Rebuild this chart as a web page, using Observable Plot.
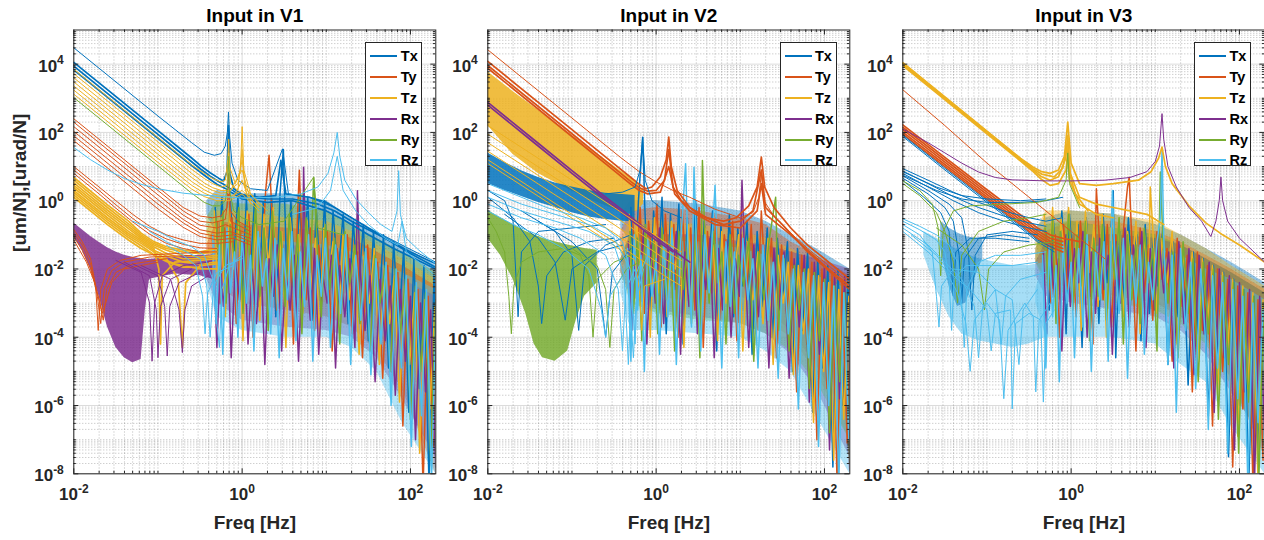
<!DOCTYPE html>
<html><head><meta charset="utf-8">
<script src="https://cdn.jsdelivr.net/npm/d3@7"></script>
<script src="https://cdn.jsdelivr.net/npm/@observablehq/plot@0.6"></script>
<style>
html,body{margin:0;padding:0;background:#fff;}
body{width:1264px;height:540px;overflow:hidden;position:relative;font-family:"Liberation Sans",Arial,Helvetica,sans-serif;}
.panel{position:absolute;top:0;width:450px;height:540px;}
.legend{position:absolute;top:41.7px;width:57px;height:124px;border:1px solid #262626;background:#fff;box-sizing:border-box;}
.legend .row{position:absolute;left:0;height:20px;width:100%;}
.legend .sw{position:absolute;left:4px;width:27px;top:9px;height:2px;display:block;}
.legend .lt{position:absolute;left:34.5px;top:1px;font-weight:bold;font-size:14.5px;line-height:18px;color:#000;}
</style></head>
<body>
<script>
// ---- series, labels, ticks ----
const seriesNames = ["Tx","Ty","Tz","Rx","Ry","Rz"];
const seriesColors = ["#0072BD","#D95319","#EDB120","#7E2F8E","#77AC30","#4DBEEE"];
const panelTitles = ["Input in V1","Input in V2","Input in V3"];
const xLabel = "Freq [Hz]";
const yLabel = "[um/N],[urad/N]";
const xDomain = [0.01, 200];
const yDomain = [1e-8, 1e5];
const xTicks = [1e-2, 1e0, 1e2];
const yTicks = [1e-8, 1e-6, 1e-4, 1e-2, 1e0, 1e2, 1e4];

// All curve values below as [log10(f), log10(|H|)] pairs.
// ---------- Input in V1 ----------
const V1_bundles = [
 ["Tx",[-2,4.05,-1,2.05,-0.6,1.25,-0.49,1.02,-0.38,0.82,-0.28,0.66,-0.22,0.58,-0.18,0.85,-0.162,2.2,-0.145,0.8,-0.1,0.35,0,0.18,0.2,0.1,0.4,0.15,0.46,1.18,0.52,0.2,0.8,0.1,1.0,-0.05,1.2,-0.35,1.4,-0.65,1.6,-0.95,1.8,-1.25,2.0,-1.55,2.3,-1.95]],
 ["Tx",[-2,3.94,-1,1.94,-0.6,1.14,-0.49,0.92,-0.38,0.72,-0.28,0.56,-0.2,0.45,-0.1,0.28,0,0.12,0.3,0.05,0.6,0.05,0.9,-0.1,1.1,-0.3,1.3,-0.6,1.5,-0.85,1.7,-1.1,2.0,-1.5,2.3,-1.85]],
 ["Tx",[-2,3.83,-1,1.83,-0.6,1.03,-0.49,0.82,-0.38,0.62,-0.3,0.48,-0.2,0.36,-0.1,0.2,0,0.05,0.3,-0.05,0.6,0.0,0.8,-0.15,1.0,-0.3,1.2,-0.55,1.5,-1.0,1.8,-1.4,2.3,-2.0]],
 ["Tz",[-2,0.68,-1.6,-0.12,-1.35,-0.6,-1.2,-0.95,-1.05,-1.2,-0.9,-1.35,-0.7,-1.45,-0.5,-1.5,-0.3,-1.4]],
 ["Tz",[-2,0.6,-1.6,-0.2,-1.35,-0.68,-1.2,-1.0,-1.05,-1.25,-0.9,-1.4,-0.7,-1.5,-0.5,-1.55,-0.3,-1.5]],
 ["Tz",[-2,0.52,-1.6,-0.28,-1.35,-0.75,-1.2,-1.05,-1.05,-1.3,-0.9,-1.45,-0.7,-1.6,-0.5,-1.65,-0.3,-1.6]],
 ["Tz",[-2,0.45,-1.6,-0.35,-1.35,-0.82,-1.2,-1.1,-1.05,-1.35,-0.9,-1.55,-0.7,-1.7,-0.5,-1.7,-0.3,-1.65]],
 ["Tz",[-2,0.38,-1.6,-0.42,-1.35,-0.9,-1.2,-1.15,-1.05,-1.4,-0.99,-2.0,-0.97,-4.2,-0.95,-2.2,-0.8,-1.8,-0.5,-1.75,-0.3,-1.7]],
 ["Tz",[-2,0.3,-1.6,-0.5,-1.35,-0.96,-1.2,-1.2,-1.05,-1.45,-0.9,-1.62,-0.7,-1.8,-0.5,-1.85,-0.3,-1.8]],
 ["Tz",[-2,0.24,-1.6,-0.56,-1.35,-1.02,-1.2,-1.25,-1.05,-1.5,-0.9,-1.7,-0.76,-2.3,-0.71,-4.3,-0.67,-2.4,-0.5,-1.9,-0.3,-1.85]],
 ["Tz",[-2,0.17,-1.6,-0.63,-1.35,-1.08,-1.2,-1.32,-1.05,-1.58,-0.9,-1.78,-0.7,-1.95,-0.5,-1.95]],
 ["Tz",[-2,0.1,-1.6,-0.7,-1.35,-1.15,-1.2,-1.4,-1.0,-1.65,-0.8,-1.85,-0.5,-2.0,-0.3,-2.0]]
];
const V1_lines = [
 ["Tx",[-2,4.48,-1,2.48,-0.6,1.7,-0.45,1.42,-0.33,1.33,-0.25,1.38,-0.2,1.6,-0.175,2.0,-0.162,2.6,-0.15,1.9,-0.12,1.1,-0.05,0.6,0.1,0.35,0.3,0.3,0.48,1.52,0.55,0.2,0.8,0.1,1.1,-0.2,1.5,-0.8,1.9,-1.3,2.3,-1.8]],
 ["Ty",[-2,2.4,-1,0.4,-0.7,-0.2,-0.5,-0.45,-0.35,-0.5,-0.25,-0.45,-0.18,-0.2,-0.16,0.8,-0.14,-0.3,-0.05,-0.6,0.1,-0.8]],
 ["Ty",[-2,2.3,-1,0.3,-0.7,-0.3,-0.5,-0.6,-0.35,-0.65,-0.2,-0.55,-0.16,0.2,-0.14,-0.6,0.1,-0.9]],
 ["Ty",[-2,2.17,-1,0.17,-0.7,-0.42,-0.5,-0.72,-0.3,-0.8,-0.2,-0.7,-0.1,-0.8,0.1,-1.0]],
 ["Ty",[-2,2.03,-1,0.03,-0.7,-0.55,-0.5,-0.85,-0.3,-0.95,-0.15,-0.9,0.1,-1.1]],
 ["Ty",[-2,1.9,-1,-0.1,-0.7,-0.65,-0.5,-0.95,-0.3,-1.05,-0.1,-1.0,0.1,-1.2]],
 ["Ty",[-2,1.76,-1,-0.24,-0.7,-0.78,-0.5,-1.05,-0.3,-1.15,-0.1,-1.1,0.1,-1.3]],
 ["Ty",[-2,1.0,-1.7,0.4,-1.5,0.0,-1.3,-0.4,-1.1,-0.75,-0.9,-1.0,-0.7,-1.15,-0.5,-1.25,-0.3,-1.25,-0.1,-1.2]],
 ["Ty",[-2,0.9,-1.7,0.3,-1.5,-0.12,-1.3,-0.52,-1.1,-0.88,-0.9,-1.12,-0.7,-1.28,-0.5,-1.38,-0.3,-1.4]],
 ["Ty",[-2,0.8,-1.7,0.2,-1.5,-0.22,-1.3,-0.62,-1.1,-0.98,-0.9,-1.25,-0.7,-1.4,-0.5,-1.5,-0.3,-1.5]],
 ["Ty",[-2,-0.85,-1.9,-1.2,-1.8,-1.7,-1.74,-2.5,-1.71,-3.8,-1.68,-2.6,-1.6,-2.0,-1.45,-1.75,-1.2,-1.6,-0.8,-1.55,-0.4,-1.5]],
 ["Ty",[-2,-0.95,-1.9,-1.3,-1.8,-1.85,-1.72,-2.8,-1.68,-3.6,-1.64,-2.6,-1.55,-2.05,-1.4,-1.8,-1.1,-1.65,-0.6,-1.6]],
 ["Ty",[-2,-1.05,-1.9,-1.45,-1.8,-2.0,-1.7,-2.9,-1.65,-3.5,-1.61,-2.6,-1.5,-2.1,-1.3,-1.85,-0.9,-1.7]],
 ["Ty",[-2,-1.15,-1.85,-1.8,-1.75,-2.4,-1.66,-3.3,-1.62,-3.0,-1.55,-2.4,-1.4,-2.0,-1.0,-1.8]],
 ["Tz",[-2,3.85,-1,1.85,-0.6,1.05,-0.45,0.8,-0.35,0.65,-0.25,0.55,-0.2,0.6,-0.17,1.2,-0.16,1.8,-0.15,1.0,-0.08,0.5,-0.02,0.9,0.0,2.17,0.02,0.9,0.1,0.2,0.3,-0.3]],
 ["Tz",[-2,3.72,-1,1.72,-0.6,0.92,-0.45,0.65,-0.35,0.5,-0.25,0.4,-0.18,0.45,-0.16,1.4,-0.14,0.5,-0.05,0.3,0,1.5,0.03,0.4,0.2,-0.1]],
 ["Tz",[-2,3.6,-1,1.6,-0.6,0.8,-0.45,0.52,-0.35,0.38,-0.25,0.3,-0.15,0.3,-0.05,0.5,0,1.2,0.05,0.2,0.2,-0.2]],
 ["Tz",[-2,3.48,-1,1.48,-0.6,0.68,-0.45,0.42,-0.35,0.3,-0.25,0.22,-0.15,0.25,0,0.9,0.1,0.0]],
 ["Tz",[-2,3.36,-1,1.36,-0.6,0.56,-0.45,0.32,-0.35,0.2,-0.25,0.15,-0.1,0.1,0,0.6,0.1,-0.1]],
 ["Tz",[-2,3.24,-1,1.24,-0.6,0.45,-0.45,0.22,-0.35,0.12,-0.2,0.05,0,0.3,0.2,-0.2]],
 ["Tz",[-2,3.12,-1,1.12,-0.6,0.34,-0.45,0.12,-0.3,0.0,-0.15,0.0,0,0.2,0.2,-0.3]],
 ["Rx",[-1.5,-1.75,-1.2,-2.1,-1.1,-3.0,-1.07,-4.7,-1.04,-3.0,-0.95,-2.2,-0.7,-1.9,-0.4,-1.8]],
 ["Rx",[-1.4,-1.8,-1.1,-2.2,-1.02,-3.2,-1.0,-4.6,-0.97,-3.1,-0.85,-2.3,-0.6,-2.0]],
 ["Rx",[-1.3,-1.85,-1.0,-2.2,-0.92,-3.1,-0.89,-4.55,-0.86,-3.1,-0.75,-2.4,-0.5,-2.1]],
 ["Rx",[-1.2,-1.9,-0.85,-2.3,-0.75,-3.2,-0.71,-4.45,-0.68,-3.2,-0.6,-2.5,-0.4,-2.2]],
 ["Ry",[-2,3.02,-1,1.02,-0.6,0.22,-0.45,-0.05,-0.35,-0.15,-0.27,-0.15,-0.2,0.0,-0.17,0.5,-0.16,1.3,-0.15,0.3,-0.1,-0.3,0,-0.5,0.2,-0.7,0.5,-0.6,0.85,0.69,0.9,-0.8,1.2,-1.0]],
 ["Rz",[-2,1.56,-1.8,1.2,-1.6,0.9,-1.4,0.65,-1.2,0.48,-1.0,0.35,-0.7,0.22,-0.4,0.15,0,0.08,0.4,0.1,0.7,0.2,0.9,0.4,1.02,0.8,1.09,1.4,1.13,2.0,1.16,1.3,1.22,0.6,1.35,0.05,1.5,-0.35,1.65,-0.7,1.78,-0.9,1.84,-0.3,1.86,0.88,1.88,-0.4,1.95,-1.1,2.1,-1.45,2.3,-1.85]],
 ["Rz",[0.6,-0.4,0.9,-0.2,1.05,0.3,1.13,1.3,1.2,0.3,1.35,-0.3,1.5,-0.7,1.7,-1.1,1.85,-1.3,1.9,-0.6,1.95,-1.5,2.15,-1.9,2.3,-2.2]],
 ["Rz",[-1.3,-0.6,-1.0,-0.9,-0.8,-1.15,-0.6,-1.35,-0.45,-1.6,-0.35,-2.3,-0.3,-3.6,-0.27,-4.3,-0.24,-2.6,-0.15,-1.9,0,-1.6]],
 ["Rz",[-1.1,-0.9,-0.9,-1.2,-0.7,-1.45,-0.5,-1.7,-0.42,-2.5,-0.38,-4.0,-0.34,-2.5,-0.2,-1.9,0,-1.7]],
 ["Rz",[-0.9,-1.3,-0.7,-1.6,-0.55,-1.9,-0.47,-2.8,-0.44,-3.9,-0.41,-2.7,-0.3,-2.1,-0.1,-1.9]]
];
// [log10 f, log10 low, log10 high] envelopes of dense bundles
const V1_bands = [
 ["Rx",[[-2,-1.05,-0.65],[-1.9,-1.45,-0.85],[-1.8,-2.0,-1.05],[-1.7,-2.8,-1.22],[-1.6,-3.7,-1.38],[-1.5,-4.3,-1.5],[-1.4,-4.6,-1.6],[-1.3,-4.75,-1.66],[-1.2,-4.65,-1.7],[-1.15,-3.2,-1.72],[-1.1,-2.3,-1.72],[-0.8,-2.15,-1.65],[-0.5,-2.2,-1.6],[-0.35,-2.3,-1.6]]]
];
// envelopes of the dense resonance region, per output
const V1_core = [
 ["Tx",[[-0.42,-0.4,0.0],[-0.3,-1.0,0.3],[0,-1.5,0.2],[0.5,-1.5,0.2],[1.0,-1.8,0.0],[1.3,-2.2,-0.5],[1.6,-2.8,-0.9],[1.9,-3.5,-1.3],[2.3,-4.5,-1.9]]],
 ["Ry",[[-0.42,-0.9,-0.5],[-0.3,-1.5,0.0],[0,-2.0,-0.1],[0.5,-2.2,-0.1],[1.0,-2.5,-0.3],[1.3,-2.8,-0.7],[1.6,-3.4,-1.1],[1.9,-4.2,-1.5],[2.3,-5.5,-2.1]]],
 ["Tz",[[-0.42,-1.3,-0.9],[-0.3,-2.0,-0.3],[0,-2.5,-0.3],[0.5,-2.8,-0.5],[1.0,-3.0,-0.6],[1.3,-3.3,-0.9],[1.6,-3.8,-1.3],[1.9,-4.8,-1.7],[2.3,-6.0,-2.3]]],
 ["Ty",[[-0.42,-1.7,-1.3],[-0.3,-2.5,-0.6],[0,-3.0,-0.7],[0.5,-3.2,-0.8],[1.0,-3.4,-0.9],[1.3,-3.7,-1.1],[1.6,-4.4,-1.5],[1.9,-5.5,-1.9],[2.3,-8.0,-2.5]]],
 ["Rx",[[-0.42,-2.3,-1.9],[-0.3,-3.0,-1.3],[0,-3.5,-1.2],[0.5,-3.7,-1.3],[1.0,-3.8,-1.4],[1.3,-4.0,-1.6],[1.6,-4.6,-1.9],[1.9,-5.8,-2.3],[2.3,-7.5,-2.8]]],
 ["Rz",[[-0.42,-2.4,-2.0],[-0.3,-3.4,-1.0],[0,-3.8,-1.0],[0.5,-4.0,-1.2],[1.0,-4.0,-1.3],[1.3,-4.3,-1.5],[1.6,-5.0,-1.8],[1.9,-6.5,-2.1],[2.3,-8.0,-2.6]]]
];
const V1_noise = [
 ["Tx",[-0.32,-0.2,-0.28,-1.9,-0.24,0.1,-0.2,-2.4,-0.14,0.0,-0.1,-1.7,-0.05,0.15,0.0,-2.9,0.05,0.05,0.1,-2.1,0.15,0.2,0.2,-3.1,0.25,-0.05,0.3,-1.8,0.35,0.1,0.4,-3.4,0.45,0.2,0.49,1.5,0.53,-2.3,0.58,0.0,0.63,-2.8,0.68,-0.1,0.73,-1.9,0.78,0.1,0.83,-3.5,0.88,-0.2,0.93,-2.4,0.98,0.0,1.03,-3.0,1.08,-0.3,1.14,-2.2,1.2,-0.4,1.26,-3.6,1.32,-0.6,1.38,-2.7,1.44,-0.7,1.5,-4.1,1.56,-0.9,1.62,-3.3,1.68,-1.0,1.74,-4.9,1.8,-1.2,1.86,-3.8,1.92,-1.4,1.98,-6.2,2.04,-1.7,2.1,-5.5,2.16,-1.9,2.22,-8.3,2.28,-2.2,2.32,-6.8]],
 ["Ty",[-0.3,-0.6,-0.26,-3.0,-0.21,-0.8,-0.17,-2.2,-0.12,-0.5,-0.07,-3.6,-0.02,-0.9,0.03,-2.5,0.08,-0.4,0.13,-4.0,0.18,-1.0,0.23,-2.0,0.28,0.3,0.32,1.33,0.36,-0.6,0.41,-3.2,0.46,-1.1,0.51,-2.6,0.56,-0.7,0.61,-4.2,0.66,-0.3,0.68,0.89,0.71,-1.2,0.76,-2.9,0.81,-0.8,0.86,-3.8,0.91,-1.3,0.96,-2.4,1.01,-0.9,1.07,-4.4,1.13,-1.4,1.19,-2.8,1.25,-1.0,1.31,-3.9,1.37,-1.5,1.43,-4.6,1.49,-1.3,1.55,-3.2,1.61,-1.8,1.67,-5.2,1.73,-1.9,1.79,-4.4,1.85,-2.1,1.91,-6.6,1.97,-2.3,2.03,-5.3,2.09,-2.6,2.15,-8.4,2.21,-2.8,2.27,-7.2,2.32,-3.0]],
 ["Tz",[-0.33,-0.3,-0.29,-2.4,-0.25,-0.5,-0.2,-3.4,-0.15,-0.2,-0.1,-2.0,-0.04,-0.6,0.01,-4.1,0.06,-0.3,0.11,-2.7,0.16,-0.7,0.21,-3.5,0.26,-0.4,0.31,-1.9,0.37,-0.2,0.42,-3.0,0.47,-0.9,0.52,-4.3,0.57,-0.5,0.62,-2.2,0.67,-1.0,0.72,-3.3,0.77,-0.6,0.82,-2.6,0.87,-1.1,0.92,-4.0,0.97,-0.8,1.02,-2.3,1.08,-1.2,1.14,-3.7,1.2,-1.0,1.27,-2.9,1.33,-1.4,1.39,-4.5,1.45,-1.6,1.51,-3.0,1.57,-1.4,1.63,-4.8,1.69,-2.0,1.75,-3.6,1.81,-2.2,1.87,-5.9,1.93,-2.5,1.99,-4.8,2.05,-2.7,2.11,-7.4,2.17,-2.9,2.23,-6.1,2.29,-3.1]],
 ["Rx",[-0.34,-1.6,-0.3,-4.3,-0.26,-1.9,-0.22,-3.1,-0.17,-1.4,-0.13,-4.6,-0.08,-1.8,-0.03,-2.9,0.02,-1.2,0.07,-4.2,0.12,-2.0,0.17,-3.6,0.22,-1.5,0.27,-4.8,0.32,-1.7,0.37,-2.8,0.42,-1.3,0.47,-4.4,0.52,-2.1,0.57,-3.2,0.62,-1.6,0.67,-4.7,0.72,-1.8,0.73,0.98,0.76,-1.9,0.81,-3.5,0.86,-1.4,0.91,-4.5,0.96,-2.2,1.01,-3.0,1.06,-1.6,1.11,-4.9,1.16,-1.9,1.22,-3.4,1.28,-1.7,1.34,-4.3,1.37,0.29,1.4,-2.0,1.46,-3.8,1.52,-2.2,1.58,-5.3,1.64,-2.3,1.7,-4.1,1.76,-2.5,1.82,-5.7,1.88,-2.6,1.94,-4.7,2.0,-2.8,2.06,-7.0,2.12,-3.0,2.18,-5.6,2.24,-3.2,2.3,-7.8]],
 ["Ry",[-0.31,-0.5,-0.27,-2.2,-0.23,-0.3,-0.19,-3.0,-0.14,-0.7,-0.09,-1.8,-0.04,-0.2,0.01,-3.3,0.06,-0.6,0.11,-2.3,0.16,-0.1,0.21,-2.8,0.26,-0.8,0.31,-3.8,0.36,-0.3,0.41,-2.0,0.46,-0.9,0.51,-3.1,0.56,-0.4,0.61,-2.5,0.66,-1.0,0.71,-3.9,0.76,-0.5,0.81,-2.1,0.85,0.69,0.89,-1.2,0.94,-3.4,0.99,-0.7,1.04,-2.6,1.1,-1.1,1.16,-4.2,1.22,-0.9,1.28,-2.4,1.34,-1.3,1.4,-3.6,1.46,-1.5,1.52,-4.4,1.58,-1.6,1.64,-3.0,1.7,-1.9,1.76,-5.0,1.82,-2.0,1.88,-3.9,1.94,-2.3,2.0,-6.4,2.06,-2.5,2.12,-5.0,2.18,-2.7,2.24,-7.6,2.3,-2.9]],
 ["Rz",[-0.35,-1.0,-0.31,-3.6,-0.27,-1.3,-0.23,-4.5,-0.18,-0.8,-0.14,-2.7,-0.09,-1.5,-0.05,-4.0,0.0,-1.0,0.05,-3.0,0.1,-1.6,0.14,-4.4,0.19,-0.9,0.24,-2.5,0.29,-1.7,0.34,-3.9,0.39,-1.1,0.44,-4.6,0.49,-1.4,0.54,-2.9,0.59,-0.9,0.64,-4.1,0.69,-1.5,0.74,-3.1,0.79,-1.0,0.84,-4.7,0.89,-1.6,0.94,-2.8,0.99,-1.1,1.05,-4.3,1.11,-1.3,1.17,-3.3,1.23,-1.0,1.29,-4.8,1.35,-1.6,1.41,-3.5,1.47,-1.4,1.53,-5.1,1.59,-1.7,1.65,-4.2,1.71,-1.8,1.77,-6.0,1.83,-2.0,1.89,-4.9,1.95,-2.2,2.01,-7.2,2.07,-2.4,2.13,-6.3,2.19,-2.6,2.25,-8.2,2.31,-2.8]]
];

// ---------- Input in V2 ----------
const V2_bundles = [
 ["Ty",[-2,4.08,-1,2.08,-0.5,1.08,-0.3,0.68,-0.2,0.48,-0.12,0.35,-0.05,0.4,0.05,0.7,0.12,1.2,0.15,1.86,0.18,1.0,0.25,0.3,0.4,-0.2,0.6,-0.5,0.8,-0.6,0.95,-0.5,1.1,-0.15,1.2,0.4,1.25,1.28,1.29,0.4,1.4,-0.2,1.6,-0.8,1.8,-1.3,2.0,-1.7,2.3,-2.3]],
 ["Ty",[-2,3.96,-1,1.96,-0.5,0.96,-0.3,0.56,-0.2,0.38,-0.1,0.28,0.0,0.3,0.1,0.6,0.15,1.5,0.2,0.4,0.3,0.0,0.5,-0.4,0.8,-0.7,1.0,-0.6,1.15,-0.3,1.25,0.9,1.3,-0.2,1.5,-0.7,1.8,-1.5,2.3,-2.6]],
 ["Ty",[-2,3.88,-1,1.88,-0.5,0.88,-0.3,0.48,-0.2,0.3,-0.1,0.2,0.05,0.25,0.15,1.0,0.22,0.2,0.4,-0.3,0.7,-0.7,1.0,-0.8,1.2,-0.3,1.25,0.5,1.3,-0.4,1.6,-1.0,2.0,-1.9,2.3,-2.5]],
 ["Rx",[-2,2.88,-1.5,1.88,-1,0.88,-0.6,0.1,-0.4,-0.28,-0.2,-0.68,0,-1.08,0.2,-1.45,0.4,-1.8]],
 ["Rx",[-2,2.8,-1.5,1.8,-1,0.8,-0.6,0.02,-0.4,-0.36,-0.2,-0.76,0,-1.16,0.2,-1.5]]
];
const V2_lines = [
 ["Ty",[-2,4.42,-1,2.42,-0.42,1.26,-0.2,0.85,0,0.55,0.2,0.3,0.4,0.1,0.7,-0.25,1.0,-0.5,1.15,-0.35,1.22,0.1,1.25,0.8,1.28,0.0,1.4,-0.45,1.6,-0.95,1.8,-1.4,2.0,-1.8,2.19,-2.19,2.3,-2.4]],
 ["Tx",[-0.6,0.2,-0.4,0.25,-0.25,0.4,-0.19,0.9,-0.16,1.86,-0.13,0.6,-0.05,0.0,0.1,-0.3,0.3,-0.5]],
 ["Tx",[-2,0.3,-1.8,0.0,-1.7,-0.6,-1.64,-3.4,-1.6,-1.5,-1.4,-0.9,-1.0,-0.8,-0.6,-0.7]],
 ["Tx",[-2,0.1,-1.7,-0.5,-1.5,-1.2,-1.4,-2.5,-1.36,-3.6,-1.3,-2.2,-1.1,-1.5,-0.8,-1.2,-0.5,-1.1]],
 ["Tx",[-1.6,-0.3,-1.2,-0.9,-1.0,-1.6,-0.92,-3.8,-0.85,-1.9,-0.6,-1.3,-0.3,-1.0]],
 ["Tx",[-1.4,-0.6,-1.0,-1.2,-0.7,-2.0,-0.6,-4.0,-0.52,-2.1,-0.3,-1.4]],
 ["Tx",[-1.8,-0.4,-1.4,-1.1,-1.2,-1.8,-1.08,-3.5,-1.0,-2.0,-0.7,-1.5,-0.4,-1.3]],
 ["Tz",[-2,2.2,-1.5,1.4,-1,0.6,-0.5,-0.2,-0.2,-0.7,0.1,-1.2,0.3,-1.5]],
 ["Tz",[-2,1.95,-1.5,1.15,-1,0.35,-0.5,-0.45,-0.2,-0.95,0.1,-1.45,0.3,-1.75]],
 ["Tz",[-2,1.7,-1.5,0.9,-1,0.1,-0.5,-0.7,-0.2,-1.2,0.1,-1.7,0.3,-2.0]],
 ["Tz",[-2,1.45,-1.5,0.65,-1,-0.15,-0.5,-0.95,-0.2,-1.45,0.1,-1.95,0.3,-2.25]],
 ["Tz",[-2,1.2,-1.5,0.4,-1,-0.4,-0.5,-1.2,-0.2,-1.7,0.1,-2.2,0.3,-2.5]],
 ["Tz",[-2,1.09,-1.5,0.29,-1,-0.51,-0.5,-1.31,-0.25,-1.75,-0.2,-2.6,-0.17,-3.8,-0.14,-2.5,0.1,-2.3]],
 ["Ry",[-1.2,-1.3,-0.9,-1.6,-0.8,-2.2,-0.75,-4.0,-0.7,-2.3,-0.5,-1.8,-0.3,-1.6]],
 ["Ry",[-1.0,-1.4,-0.7,-1.9,-0.6,-2.6,-0.55,-4.3,-0.5,-2.6,-0.35,-2.0,-0.2,-1.8]],
 ["Ry",[-2,-0.5,-1.9,-0.9,-1.8,-1.5,-1.75,-2.8,-1.72,-3.9,-1.69,-2.5,-1.6,-1.8,-1.4,-1.5,-1.1,-1.4]],
 ["Rz",[-2,0.3,-1.6,-0.1,-1.2,-0.4,-0.8,-0.7,-0.5,-1.1,-0.35,-1.8,-0.3,-3.5,-0.27,-4.6,-0.24,-3.0,-0.15,-2.0]],
 ["Rz",[-2,0.1,-1.6,-0.3,-1.2,-0.6,-0.8,-0.9,-0.5,-1.3,-0.38,-2.2,-0.33,-4.8,-0.29,-2.5,-0.2,-1.9]],
 ["Rz",[-2,-0.1,-1.6,-0.5,-1.2,-0.8,-0.9,-1.1,-0.6,-1.6,-0.45,-2.6,-0.4,-4.4,-0.36,-2.6,-0.25,-2.0]],
 ["Rz",[-2,-0.3,-1.7,-0.7,-1.4,-1.0,-1.1,-1.4,-0.8,-2.0,-0.65,-3.2,-0.6,-4.0,-0.55,-2.8,-0.4,-2.2]],
 ["Rz",[-2,0.5,-1.7,0.2,-1.3,-0.2,-0.9,-0.5,-0.6,-0.8,-0.4,-1.2,-0.3,-2.1,-0.25,-4.2,-0.22,-2.3,-0.1,-1.6]]
];
const V2_bands = [
 ["Tz",[[-2,2.2,3.78],[-1.7,1.35,3.2],[-1.4,0.8,2.65],[-1.1,0.4,2.1],[-0.8,0.05,1.55],[-0.6,-0.15,1.2],[-0.45,-0.3,0.92],[-0.32,-0.35,0.7],[-0.22,-0.3,0.5],[-0.15,-0.1,0.3]]],
 ["Tx",[[-2,0.5,1.4],[-1.8,0.3,1.12],[-1.6,0.12,0.88],[-1.4,-0.05,0.68],[-1.2,-0.2,0.52],[-1.0,-0.35,0.4],[-0.8,-0.48,0.3],[-0.6,-0.55,0.22],[-0.4,-0.6,0.18],[-0.25,-0.62,0.15]]],
 ["Ry",[[-2,-1.1,-0.28],[-1.85,-1.6,-0.5],[-1.7,-2.3,-0.7],[-1.55,-3.3,-0.9],[-1.45,-4.2,-1.0],[-1.35,-4.6,-1.1],[-1.2,-4.7,-1.2],[-1.05,-4.4,-1.3],[-0.95,-3.5,-1.35],[-0.85,-2.8,-1.4],[-0.7,-2.4,-1.45]]]
];
const V2_core = [
 ["Tx",[[-0.42,-0.8,-0.4],[-0.3,-1.2,0.0],[0,-1.6,0.0],[0.5,-1.8,-0.1],[1.0,-2.0,-0.3],[1.3,-2.3,-0.6],[1.6,-2.8,-1.0],[1.9,-3.4,-1.4],[2.3,-4.5,-2.0]]],
 ["Ty",[[-0.42,-1.3,-0.9],[-0.3,-2.0,-0.3],[0,-2.4,-0.2],[0.5,-2.6,-0.3],[1.0,-2.8,-0.5],[1.3,-3.2,-0.7],[1.6,-3.8,-1.2],[1.9,-4.8,-1.6],[2.3,-6.5,-2.2]]],
 ["Tz",[[-0.42,-1.6,-1.2],[-0.3,-2.4,-0.5],[0,-2.8,-0.6],[0.5,-3.0,-0.7],[1.0,-3.2,-0.9],[1.3,-3.5,-1.1],[1.6,-4.0,-1.4],[1.9,-5.0,-1.8],[2.3,-7.0,-2.4]]],
 ["Rx",[[-0.42,-2.1,-1.7],[-0.3,-2.8,-1.0],[0,-3.2,-1.0],[0.5,-3.4,-1.0],[1.0,-3.6,-1.2],[1.3,-3.9,-1.3],[1.6,-4.5,-1.5],[1.9,-5.5,-1.7],[2.3,-7.5,-2.0]]],
 ["Ry",[[-0.42,-2.1,-1.7],[-0.3,-3.0,-0.9],[0,-3.3,-1.0],[0.5,-3.5,-1.1],[1.0,-3.6,-1.3],[1.3,-3.9,-1.5],[1.6,-4.4,-1.8],[1.9,-5.3,-2.1],[2.3,-7.0,-2.6]]],
 ["Rz",[[-0.42,-2.7,-2.3],[-0.3,-3.8,-1.2],[0,-3.8,-1.2],[0.5,-3.9,-1.2],[1.0,-4.0,-1.4],[1.3,-4.4,-1.6],[1.6,-5.0,-1.9],[1.9,-6.3,-2.2],[2.3,-8.0,-2.6]]]
];
const V2_noise = [
 ["Tx",[-0.3,-0.2,-0.26,-2.8,-0.21,0.0,-0.16,1.86,-0.13,-0.5,-0.08,-3.5,-0.03,-0.3,0.02,-2.2,0.07,0.1,0.12,-3.9,0.17,-0.4,0.22,-2.6,0.27,-0.1,0.32,-4.2,0.37,-0.5,0.42,-2.4,0.47,0.0,0.52,-3.6,0.57,-0.6,0.62,-2.1,0.67,-0.3,0.72,-4.4,0.77,-0.7,0.82,-2.9,0.87,-0.4,0.92,-3.4,0.97,-0.8,1.02,-2.5,1.08,-0.6,1.14,-4.5,1.2,-0.9,1.26,-3.1,1.32,-0.8,1.38,-4.0,1.44,-1.1,1.5,-2.9,1.56,-1.2,1.62,-5.0,1.68,-1.4,1.74,-3.8,1.8,-1.5,1.86,-6.2,1.92,-1.7,1.98,-4.9,2.04,-1.9,2.1,-7.8,2.16,-2.0,2.22,-6.0,2.28,-2.2,2.32,-8.3]],
 ["Ty",[-0.28,-0.5,-0.24,-2.2,-0.19,-0.2,-0.14,-3.3,-0.09,-0.6,-0.04,-2.0,0.01,-0.1,0.06,-3.7,0.11,-0.4,0.16,-2.5,0.21,-0.7,0.26,-4.0,0.31,-0.3,0.36,-2.3,0.41,-0.8,0.46,-3.2,0.51,-0.2,0.56,-4.3,0.61,-0.9,0.66,-2.7,0.71,-0.5,0.76,-3.5,0.81,-1.0,0.86,-2.2,0.91,-0.6,0.96,-4.1,1.01,-1.0,1.07,-2.8,1.13,-0.7,1.19,-3.9,1.25,-0.3,1.31,-3.0,1.37,-1.1,1.43,-4.6,1.49,-1.3,1.55,-3.3,1.61,-1.5,1.67,-5.6,1.73,-1.6,1.79,-4.2,1.85,-1.8,1.91,-7.0,1.97,-2.0,2.03,-5.5,2.09,-2.1,2.15,-8.3,2.21,-2.3,2.27,-7.1,2.32,-2.5]],
 ["Tz",[-0.32,-0.4,-0.28,-3.0,-0.23,-0.6,-0.18,-2.3,-0.12,-0.8,-0.07,-4.0,-0.02,-0.5,0.03,-2.7,0.08,-1.0,0.13,-3.4,0.18,-0.6,0.23,-2.0,0.28,-1.1,0.33,-4.3,0.38,-0.7,0.43,-2.8,0.48,-1.2,0.53,-3.7,0.58,-0.8,0.63,-2.4,0.68,-1.3,0.73,-4.1,0.78,-0.9,0.83,-3.0,0.88,-1.4,0.93,-2.2,0.98,-1.0,1.03,-4.4,1.09,-1.2,1.15,-2.9,1.21,-1.5,1.27,-3.6,1.33,-1.1,1.39,-4.8,1.45,-1.6,1.51,-3.0,1.57,-1.8,1.63,-5.1,1.69,-1.9,1.75,-3.9,1.81,-2.0,1.87,-6.5,1.93,-2.2,1.99,-5.0,2.05,-2.4,2.11,-7.6,2.17,-2.6,2.23,-6.4,2.29,-2.8]],
 ["Rx",[-0.33,-1.2,-0.29,-3.8,-0.25,-1.5,-0.2,-2.7,-0.15,-0.9,-0.11,-4.2,-0.06,-1.3,-0.01,-3.0,0.04,-0.8,0.09,-3.6,0.14,-1.4,0.19,-2.4,0.24,-0.9,0.29,-4.5,0.34,-1.5,0.39,-3.1,0.44,-1.0,0.49,-3.9,0.54,-1.6,0.59,-2.6,0.64,-1.1,0.69,-4.6,0.74,-1.4,0.79,-3.2,0.84,-1.2,0.89,-4.0,0.94,-1.7,0.99,-2.8,1.02,0.6,1.05,-1.5,1.1,-4.3,1.16,-1.3,1.22,-3.4,1.28,-1.6,1.34,-4.9,1.4,-1.4,1.46,-3.2,1.52,-1.5,1.58,-5.2,1.64,-1.7,1.7,-3.7,1.76,-1.6,1.82,-5.9,1.88,-1.8,1.94,-4.5,2.0,-1.9,2.06,-7.3,2.12,-2.1,2.18,-5.8,2.24,-2.2,2.3,-7.9]],
 ["Ry",[-0.31,-0.9,-0.27,-3.3,-0.22,-1.1,-0.17,-4.1,-0.13,-0.7,-0.08,-2.5,-0.03,-1.2,0.02,-3.9,0.07,-0.8,0.12,-2.9,0.17,-1.3,0.22,-4.4,0.27,-0.9,0.32,-2.6,0.37,-1.4,0.42,-3.6,0.47,-0.8,0.52,-4.6,0.55,1.18,0.58,-1.2,0.63,-3.0,0.68,-0.9,0.73,-2.4,0.78,-1.5,0.83,-4.2,0.88,-1.0,0.93,-3.3,0.98,-1.6,1.04,-2.5,1.1,-1.1,1.16,-4.7,1.22,-1.5,1.28,-2.9,1.34,-1.2,1.42,0.1,1.46,-3.8,1.52,-1.7,1.58,-4.4,1.64,-1.9,1.7,-3.2,1.76,-2.0,1.82,-5.5,1.88,-2.1,1.94,-4.1,2.0,-2.3,2.06,-6.8,2.12,-2.5,2.18,-5.3,2.24,-2.7,2.3,-7.7]],
 ["Rz",[-0.34,-1.4,-0.3,-4.7,-0.26,-1.0,-0.22,-3.2,-0.18,-1.6,-0.14,-5.0,-0.1,-1.1,-0.05,-2.8,0.0,-1.7,0.04,-4.5,0.09,-1.2,0.14,-3.4,0.19,-0.8,0.24,-4.8,0.29,-1.3,0.35,1.08,0.38,-1.6,0.42,-3.7,0.45,0.98,0.48,-1.4,0.53,-4.4,0.58,-1.0,0.63,-2.7,0.7,0.45,0.73,-1.8,0.78,-4.9,0.83,-1.2,0.88,-3.1,0.93,-1.5,0.98,-4.6,1.03,-1.1,1.09,-2.9,1.15,-1.7,1.21,-4.9,1.27,-1.3,1.33,-3.5,1.39,-1.8,1.45,-5.2,1.51,-1.6,1.57,-3.9,1.63,-2.0,1.69,-6.1,1.75,-2.1,1.81,-4.6,1.87,-2.2,1.93,-7.2,1.99,-2.4,2.05,-6.0,2.11,-2.5,2.17,-8.3,2.23,-2.7,2.29,-7.0]]
];

// ---------- Input in V3 ----------
const V3_bundles = [
 ["Ty",[-2,2.22,-1.5,1.27,-1,0.32,-0.6,-0.42,-0.4,-0.8,-0.25,-1.0,-0.1,-1.1,0.1,-1.2]],
 ["Ty",[-2,2.15,-1.5,1.2,-1,0.25,-0.6,-0.5,-0.4,-0.88,-0.25,-1.1,-0.1,-1.2]],
 ["Ty",[-2,2.08,-1.5,1.13,-1,0.18,-0.6,-0.57,-0.4,-0.95,-0.25,-1.18,-0.1,-1.3]],
 ["Ty",[-2,2.01,-1.5,1.06,-1,0.11,-0.6,-0.64,-0.4,-1.02,-0.25,-1.26,-0.1,-1.4]],
 ["Ty",[-2,1.95,-1.5,1.0,-1,0.05,-0.6,-0.7,-0.4,-1.1,-0.25,-1.35,-0.1,-1.5]],
 ["Tz",[-2,4.04,-1,2.04,-0.6,1.24,-0.45,0.98,-0.35,0.85,-0.25,0.8,-0.15,0.9,-0.08,1.3,-0.04,2.3,0.0,1.1,0.1,0.5,0.3,0.45,0.5,0.5,0.8,0.6,0.95,0.85,1.04,1.25,1.08,1.57,1.12,1.0,1.2,0.5,1.4,-0.15,1.6,-0.65,1.8,-1.0,2.0,-1.3,2.3,-1.8]],
 ["Tz",[-2,4.0,-1,2.0,-0.6,1.2,-0.45,0.9,-0.35,0.7,-0.25,0.6,-0.15,0.7,-0.07,1.2,-0.04,1.9,-0.01,0.8,0.1,0.1,0.3,-0.1,0.5,-0.2,0.7,-0.3,0.9,-0.4,1.1,-0.7]],
 ["Tz",[-2,3.96,-1,1.96,-0.6,1.16,-0.45,0.85,-0.35,0.62,-0.25,0.45,-0.15,0.5,-0.06,0.9,-0.04,1.5,-0.02,0.6,0.1,-0.1,0.3,-0.4,0.5,-0.5]],
 ["Tz",[-2,4.02,-1,2.02,-0.6,1.22,-0.45,0.93,-0.35,0.78,-0.2,0.7,-0.1,0.95,-0.05,1.6,-0.03,0.9,0.05,0.2,0.2,-0.3]]
];
const V3_lines = [
 ["Tx",[-2,1.92,-1.5,0.95,-1,0.0,-0.6,-0.75,-0.4,-1.15,-0.2,-1.4]],
 ["Tx",[-2,1.88,-1.5,0.9,-1,-0.05,-0.6,-0.8,-0.4,-1.2,-0.2,-1.5]],
 ["Tx",[-2,0.94,-1.7,0.6,-1.4,0.25,-1.1,-0.05,-0.8,-0.3,-0.5,-0.5,-0.3,-0.6,-0.1,-0.5]],
 ["Tx",[-2,0.87,-1.7,0.5,-1.4,0.12,-1.1,-0.2,-0.8,-0.45,-0.5,-0.65,-0.3,-0.75]],
 ["Tx",[-2,0.8,-1.7,0.4,-1.4,0.0,-1.1,-0.35,-0.8,-0.6,-0.5,-0.8,-0.3,-0.9]],
 ["Tx",[-2,0.73,-1.7,0.3,-1.45,-0.1,-1.3,-0.5,-1.22,-1.5,-1.18,-3.2,-1.14,-1.6,-1.0,-1.0,-0.7,-0.9,-0.4,-1.0]],
 ["Tx",[-2,0.66,-1.7,0.2,-1.5,-0.2,-1.4,-0.6,-1.33,-1.6,-1.3,-3.0,-1.27,-1.7,-1.1,-1.1,-0.8,-1.0,-0.5,-1.1]],
 ["Tx",[-2,0.59,-1.75,0.1,-1.55,-0.35,-1.45,-0.9,-1.4,-2.8,-1.37,-1.5,-1.2,-1.1,-0.9,-1.1,-0.5,-1.2]],
 ["Tx",[-2,0.75,-1.6,0.3,-1.3,0.05,-1.0,-0.05,-0.6,-0.05,-0.3,0.0,-0.1,0.1]],
 ["Tx",[-2,0.85,-1.6,0.4,-1.3,0.15,-1.0,0.05,-0.6,0.0,-0.3,0.05]],
 ["Ty",[-2,3.25,-1.5,2.2,-1,1.1,-0.6,0.3,-0.3,-0.3,0,-0.9,0.2,-1.3,0.4,-1.7]],
 ["Rx",[-2,2.1,-1.7,1.7,-1.5,1.4,-1.3,1.1,-1.1,0.84,-0.9,0.68,-0.7,0.61,-0.3,0.58,0,0.58,0.4,0.6,0.7,0.68,0.9,0.85,1.0,1.15,1.05,1.6,1.08,2.55,1.1,1.8,1.15,1.0,1.25,0.4,1.4,-0.2,1.55,-0.6,1.66,-1.05,1.72,-0.6,1.76,0.0,1.78,0.69,1.8,0.0,1.86,-0.6,2.0,-1.1,2.15,-1.45,2.3,-1.8]],
 ["Ry",[-2,0.58,-1.8,0.3,-1.65,-0.1,-1.58,-0.8,-1.55,-2.2,-1.52,-0.9,-1.4,-0.3,-1.2,-0.15,-0.8,-0.1,-0.4,-0.05,-0.15,0.1,-0.06,0.6,-0.04,1.4,-0.02,0.5,0.1,-0.2]],
 ["Ry",[-2,0.5,-1.8,0.15,-1.6,-0.35,-1.5,-0.9,-1.4,-1.8,-1.35,-3.0,-1.3,-1.6,-1.1,-0.9,-0.8,-0.6,-0.5,-0.5,-0.3,-0.4]],
 ["Ry",[-1.6,-0.8,-1.3,-1.3,-1.1,-2.0,-1.03,-3.2,-0.98,-2.0,-0.8,-1.5,-0.5,-1.3,-0.2,-1.2]],
 ["Rz",[-2,-0.53,-1.8,-0.75,-1.6,-1.0,-1.45,-1.3,-1.35,-1.8,-1.3,-3.0,-1.27,-4.3,-1.24,-2.6,-1.1,-1.8,-0.9,-1.6,-0.6,-1.6,-0.3,-1.5]],
 ["Rz",[-2,-0.6,-1.8,-0.85,-1.6,-1.15,-1.5,-1.5,-1.45,-2.3,-1.42,-3.8,-1.39,-2.3,-1.25,-1.9,-1.0,-1.9,-0.7,-1.9,-0.4,-1.8]],
 ["Rz",[-2,-0.7,-1.8,-1.0,-1.65,-1.5,-1.6,-2.8,-1.57,-3.7,-1.54,-2.5,-1.4,-2.0,-1.1,-2.1,-0.9,-2.6,-0.83,-4.2,-0.78,-2.8,-0.6,-2.3,-0.3,-2.1]],
 ["Rz",[-2,-0.8,-1.7,-1.3,-1.5,-1.8,-1.3,-2.3,-1.15,-3.1,-1.1,-4.6,-1.05,-3.1,-0.9,-2.6,-0.7,-2.9,-0.62,-4.8,-0.57,-3.2,-0.4,-2.6]],
 ["Rz",[-2,-0.9,-1.7,-1.5,-1.5,-2.0,-1.35,-2.7,-1.25,-3.6,-1.2,-5.0,-1.15,-3.5,-1.0,-3.0,-0.85,-3.5,-0.8,-5.8,-0.75,-3.8,-0.55,-3.0,-0.45,-3.4,-0.42,-5.6,-0.38,-3.5,-0.25,-3.0]],
 ["Rz",[-1.9,-1.0,-1.6,-1.6,-1.4,-2.2,-1.2,-2.6,-1.0,-3.2,-0.95,-4.4,-0.9,-3.3,-0.72,-3.2,-0.7,-6.1,-0.66,-3.6,-0.5,-3.3,-0.36,-3.5,-0.33,-5.9,-0.3,-3.6,-0.2,-3.2]]
];
const V3_bands = [
 ["Rz",[[-1.75,-1.6,-0.9],[-1.6,-2.6,-1.1],[-1.45,-3.4,-1.3],[-1.3,-3.9,-1.5],[-1.1,-4.1,-1.7],[-0.9,-4.2,-1.8],[-0.7,-4.3,-1.9],[-0.5,-4.2,-1.9],[-0.3,-4.0,-1.8]]],
 ["Tx",[[-1.55,-1.4,-0.6],[-1.45,-2.5,-0.8],[-1.35,-3.1,-0.95],[-1.25,-3.0,-1.05],[-1.15,-2.3,-1.1],[-1.05,-1.7,-1.1]]]
];
const V3_core = [
 ["Tx",[[-0.42,-1.2,-0.8],[-0.3,-1.5,-0.5],[0,-1.8,-0.3],[0.5,-2.0,-0.4],[1.0,-2.3,-0.7],[1.3,-2.7,-1.0],[1.6,-3.3,-1.4],[1.9,-4.2,-1.8],[2.3,-5.5,-2.4]]],
 ["Ty",[[-0.42,-1.8,-1.4],[-0.3,-2.3,-0.9],[0,-2.6,-0.6],[0.5,-2.8,-0.6],[1.0,-3.0,-0.9],[1.3,-3.4,-1.2],[1.6,-4.0,-1.6],[1.9,-5.2,-2.0],[2.3,-7.5,-2.6]]],
 ["Tz",[[-0.42,-1.3,-0.9],[-0.3,-2.0,-0.3],[0,-2.3,-0.3],[0.5,-2.5,-0.4],[1.0,-2.8,-0.6],[1.3,-3.2,-1.0],[1.6,-3.8,-1.4],[1.9,-4.8,-1.9],[2.3,-6.5,-2.5]]],
 ["Rx",[[-0.42,-2.2,-1.8],[-0.3,-2.8,-1.2],[0,-3.0,-1.0],[0.5,-3.2,-1.0],[1.0,-3.4,-1.1],[1.3,-3.8,-1.3],[1.6,-4.5,-1.7],[1.9,-5.6,-2.1],[2.3,-7.0,-2.7]]],
 ["Ry",[[-0.42,-1.8,-1.4],[-0.3,-2.5,-0.7],[0,-2.8,-0.6],[0.5,-3.0,-0.8],[1.0,-3.2,-1.0],[1.3,-3.6,-1.3],[1.6,-4.2,-1.7],[1.9,-5.4,-2.1],[2.3,-7.2,-2.7]]],
 ["Rz",[[-0.42,-3.0,-2.6],[-0.3,-4.0,-1.5],[0,-4.0,-1.4],[0.5,-4.0,-1.3],[1.0,-4.2,-1.4],[1.3,-4.8,-1.6],[1.6,-5.3,-2.0],[1.9,-6.6,-2.3],[2.3,-8.0,-2.9]]]
];
const V3_noise = [
 ["Tx",[-0.3,-0.9,-0.26,-3.2,-0.21,-0.6,-0.16,-2.5,-0.11,-0.3,-0.06,-3.9,-0.02,-0.4,0.03,-2.2,0.08,-0.7,0.13,-4.3,0.18,-0.5,0.23,-2.8,0.28,-0.8,0.33,-3.6,0.38,-0.4,0.43,-2.4,0.48,-0.6,0.5,0.29,0.53,-4.6,0.58,-0.9,0.63,-3.0,0.68,-0.5,0.73,-2.6,0.78,-1.0,0.83,-4.1,0.88,-0.7,0.93,-3.3,0.98,-1.1,1.03,-2.5,1.09,-0.8,1.15,-4.8,1.21,-1.2,1.27,-3.4,1.33,-1.3,1.39,-5.4,1.45,-1.5,1.51,-3.9,1.57,-1.7,1.63,-6.3,1.69,-1.9,1.75,-4.8,1.81,-2.1,1.87,-7.5,1.93,-2.3,1.99,-6.0,2.05,-2.6,2.11,-8.3,2.17,-2.8,2.23,-7.4,2.29,-3.0]],
 ["Ty",[-0.28,-1.3,-0.24,-3.0,-0.19,-1.0,-0.14,-4.0,-0.09,-0.7,-0.04,-2.6,0.01,-1.1,0.06,-3.4,0.11,-0.6,0.16,-2.2,0.21,-1.2,0.26,-4.2,0.3,0.35,0.33,-0.9,0.38,-2.9,0.43,-0.7,0.48,-3.7,0.53,-1.0,0.58,-2.4,0.63,-0.6,0.67,0.4,0.69,0.69,0.72,-1.1,0.77,-4.4,0.82,-0.8,0.87,-2.7,0.92,-1.3,0.97,-3.5,1.02,-0.9,1.08,-2.3,1.14,-1.4,1.2,-4.7,1.26,-1.1,1.32,-3.1,1.38,-1.6,1.44,-5.6,1.5,-1.5,1.56,-3.8,1.62,-1.9,1.68,-6.6,1.74,-2.0,1.8,-5.0,1.86,-2.3,1.92,-7.8,1.98,-2.5,2.04,-6.1,2.1,-2.7,2.16,-8.3,2.22,-2.9,2.28,-7.6]],
 ["Tz",[-0.32,-0.4,-0.27,-2.4,-0.22,-0.2,-0.17,-3.3,-0.12,-0.5,-0.07,-1.9,-0.03,-0.2,0.02,-2.9,0.07,-0.6,0.12,-3.8,0.17,-0.3,0.22,-2.1,0.27,-0.7,0.32,-3.1,0.37,-0.4,0.42,-4.0,0.47,-0.8,0.52,-2.5,0.57,-0.5,0.62,-3.4,0.67,-0.9,0.72,-2.2,0.77,-0.6,0.82,-3.9,0.87,-1.0,0.92,-2.6,0.94,0.4,0.97,-0.8,1.02,-3.3,1.08,-1.1,1.14,-2.4,1.2,-0.9,1.26,-4.2,1.32,-1.3,1.38,-2.9,1.44,-1.5,1.5,-4.8,1.56,-1.7,1.62,-3.5,1.68,-1.9,1.74,-5.7,1.8,-2.1,1.86,-4.3,1.92,-2.3,1.98,-6.9,2.04,-2.5,2.1,-5.5,2.16,-2.7,2.22,-8.2,2.28,-2.9]],
 ["Rx",[-0.33,-1.5,-0.29,-3.9,-0.25,-1.2,-0.2,-2.8,-0.15,-1.7,-0.11,-4.4,-0.06,-1.0,-0.01,-3.1,0.04,-1.4,0.09,-2.4,0.14,-0.9,0.19,-4.0,0.24,-1.5,0.29,-3.3,0.34,-1.1,0.39,-2.6,0.44,-1.6,0.49,-4.5,0.54,-1.2,0.59,-3.0,0.64,-0.8,0.69,-3.7,0.74,-1.3,0.79,-2.3,0.84,-0.9,0.89,-4.3,0.94,-1.4,0.99,-3.2,1.04,-1.0,1.1,-2.7,1.16,-1.5,1.22,-4.9,1.28,-1.2,1.34,-3.6,1.4,-1.4,1.46,-5.1,1.52,-1.6,1.58,-3.9,1.64,-1.8,1.7,-6.2,1.76,-2.0,1.82,-4.6,1.88,-2.2,1.94,-7.3,2.0,-2.4,2.06,-5.6,2.12,-2.6,2.18,-8.1,2.24,-2.8,2.3,-6.9]],
 ["Ry",[-0.31,-0.8,-0.27,-2.6,-0.22,-0.5,-0.18,-3.6,-0.13,-0.9,-0.08,-2.1,-0.03,-0.4,0.02,-3.2,0.07,-1.0,0.12,-2.5,0.17,-0.6,0.22,-4.1,0.27,-1.1,0.32,-2.8,0.37,-0.7,0.42,-3.5,0.47,-1.2,0.52,-2.3,0.57,-0.5,0.62,-4.2,0.67,-1.0,0.72,-2.9,0.77,-1.3,0.82,-3.6,0.87,-0.8,0.92,-2.4,0.97,-1.4,1.02,-4.4,1.06,0.84,1.09,-1.1,1.15,-3.0,1.21,-1.5,1.27,-4.6,1.33,-1.2,1.39,-3.3,1.45,-1.7,1.51,-5.3,1.57,-1.8,1.63,-3.9,1.69,-2.0,1.75,-6.4,1.81,-2.2,1.87,-4.8,1.93,-2.4,1.99,-7.4,2.05,-2.6,2.11,-5.9,2.17,-2.8,2.23,-8.2,2.29,-3.0]],
 ["Rz",[-0.34,-1.6,-0.3,-4.9,-0.26,-1.3,-0.22,-3.4,-0.18,-1.9,-0.14,-5.3,-0.1,-1.2,-0.05,-3.0,0.0,-1.8,0.04,-4.6,0.09,-1.4,0.14,-3.7,0.19,-1.0,0.24,-5.0,0.29,-1.5,0.34,-2.9,0.39,-1.2,0.44,-4.7,0.49,0.3,0.52,-1.7,0.57,-3.3,0.62,-1.1,0.67,-5.2,0.72,-1.6,0.77,-3.0,0.82,-1.3,0.87,-4.5,0.92,-1.8,0.97,-2.9,1.02,-1.2,1.06,-0.5,1.08,1.47,1.1,-1.0,1.15,-4.8,1.2,-1.6,1.25,-6.2,1.3,-1.4,1.36,-3.8,1.42,-1.8,1.48,-5.5,1.54,-2.0,1.6,-4.2,1.63,-6.7,1.68,-2.2,1.74,-4.9,1.8,-2.4,1.86,-7.4,1.92,-2.6,1.98,-5.8,2.04,-2.8,2.1,-8.3,2.16,-3.0,2.22,-6.5,2.28,-3.2]]
];

// ---------- build ----------
const toRows = list => list.flatMap(([s, pts], id) => {
  const out = [];
  for (let j = 0; j + 1 < pts.length; j += 2) out.push({s, id, f: 10 ** pts[j], v: 10 ** pts[j + 1]});
  return out;
});
const toBandRows = list => list.flatMap(([s, pts], id) =>
  pts.map(([f, lo, hi]) => ({s, id, f: 10 ** f, lo: 10 ** lo, hi: 10 ** hi})));

// minor grid positions derived from the tick decades
const xMinor = [];
for (let e = -2; e <= 2; e++) for (let k = 1; k <= 9; k++) {
  const v = k * 10 ** e;
  if (v > xDomain[0] * 1.0001 && v < xDomain[1] * 0.9999 && !xTicks.some(t => Math.abs(t - v) / v < 1e-6)) xMinor.push(v);
}
const yMinor = [];
for (let e = -8; e <= 4; e++) for (let k = 1; k <= 9; k++) {
  const v = k * 10 ** e;
  if (v > yDomain[0] * 1.0001 && v < yDomain[1] * 0.9999 && !yTicks.some(t => Math.abs(t - v) / v < 1e-6)) yMinor.push(v);
}

const W = 450, H = 540, mL = 73.3, mR = 14.7, mT = 29.5, mB = 66.7;
const innerW = W - mL - mR, innerH = H - mT - mB;
const panelLefts = [73.3, 487.5, 902];
const panelData = [
  [V1_core, V1_bands, V1_noise, V1_bundles, V1_lines],
  [V2_core, V2_bands, V2_noise, V2_bundles, V2_lines],
  [V3_core, V3_bands, V3_noise, V3_bundles, V3_lines]
];
const expFmt = d => String(Math.round(Math.log10(d)));
const ax = "#262626";

panelData.forEach(([core, bands, noise, bundles, lines], i) => {
  const marks = [
    Plot.ruleX(xMinor, {stroke: "#1a1a1a", strokeOpacity: 0.3, strokeDasharray: "1,2"}),
    Plot.ruleY(yMinor, {stroke: "#1a1a1a", strokeOpacity: 0.3, strokeDasharray: "1,2"}),
    Plot.ruleX(xTicks, {stroke: ax, strokeOpacity: 0.16}),
    Plot.ruleY(yTicks, {stroke: ax, strokeOpacity: 0.16}),
    Plot.area(toBandRows(core), {x1: "f", y1: "lo", y2: "hi", z: "id", fill: "s", fillOpacity: 0.42, clip: true}),
    Plot.area(toBandRows(bands), {x1: "f", y1: "lo", y2: "hi", z: "id", fill: "s", fillOpacity: i === 2 ? 0.5 : 0.85, clip: true}),
    Plot.line(toRows(noise), {x: "f", y: "v", z: "id", stroke: "s", strokeWidth: 1.5, clip: true}),
    Plot.line(toRows(bundles), {x: "f", y: "v", z: "id", stroke: "s", strokeWidth: 1.7, clip: true}),
    Plot.line(toRows(lines), {x: "f", y: "v", z: "id", stroke: "s", strokeWidth: 1, clip: true}),
    Plot.frame({stroke: ax, strokeWidth: 1}),
    // inward tick marks on all four sides
    Plot.ruleX(xTicks, {stroke: ax, insetTop: innerH - 5}),
    Plot.ruleX(xTicks, {stroke: ax, insetBottom: innerH - 5}),
    Plot.ruleX(xMinor, {stroke: ax, insetTop: innerH - 2.5}),
    Plot.ruleX(xMinor, {stroke: ax, insetBottom: innerH - 2.5}),
    Plot.ruleY(yTicks, {stroke: ax, insetRight: innerW - 5}),
    Plot.ruleY(yTicks, {stroke: ax, insetLeft: innerW - 5}),
    Plot.ruleY(yMinor, {stroke: ax, insetRight: innerW - 2.5}),
    Plot.ruleY(yMinor, {stroke: ax, insetLeft: innerW - 2.5}),
    Plot.axisX(xTicks, {anchor: "bottom", tickSize: 0, tickPadding: 14.5, tickFormat: expFmt, fontSize: 17, fontWeight: "bold", label: null}),
    Plot.axisY(yTicks, {anchor: "left", tickSize: 0, tickPadding: 10, tickFormat: expFmt, fontSize: 17, fontWeight: "bold", label: null, dy: 2}),
    Plot.text([panelTitles[i]], {text: d => d, frameAnchor: "top", dy: -8.5, lineAnchor: "bottom", fontSize: 19, fontWeight: "bold", fill: "#000"}),
    Plot.text([xLabel], {text: d => d, frameAnchor: "bottom", dy: 55, lineAnchor: "bottom", fontSize: 19, fontWeight: "bold", fill: ax})
  ];
  if (i === 0) marks.push(Plot.text([yLabel], {text: d => d, frameAnchor: "left", rotate: -90, dx: -47.5, lineAnchor: "bottom", fontSize: 19, fontWeight: "bold", fill: ax}));

  const svg = Plot.plot({
    width: W, height: H,
    marginLeft: mL, marginRight: mR, marginTop: mT, marginBottom: mB,
    x: {type: "log", domain: xDomain},
    y: {type: "log", domain: yDomain},
    color: {domain: seriesNames, range: seriesColors},
    style: {fontFamily: "'Liberation Sans', Arial, Helvetica, sans-serif", background: "transparent", color: ax, overflow: "visible"},
    marks
  });
  // superscript exponents: "10" + raised exponent
  d3.select(svg).selectAll('g[aria-label="x-axis tick label"] text, g[aria-label="y-axis tick label"] text').each(function () {
    const e = this.textContent;
    const t = d3.select(this);
    t.text("10");
    t.append("tspan").attr("dy", -7.5).attr("font-size", 12).text(e);
  });
  const div = document.createElement("div");
  div.className = "panel";
  div.style.left = (panelLefts[i] - mL) + "px";
  div.appendChild(svg);
  document.body.appendChild(div);

  // legend box (inside the axes, top-right)
  const lg = document.createElement("div");
  lg.className = "legend";
  lg.style.left = (panelLefts[i] + innerW - 70) + "px";
  seriesNames.forEach((n, k) => {
    const row = document.createElement("div");
    row.className = "row";
    row.style.top = (3.5 + k * 20.85) + "px";
    row.innerHTML = `<span class="sw" style="background:${seriesColors[k]}"></span><span class="lt">${n}</span>`;
    lg.appendChild(row);
  });
  document.body.appendChild(lg);
});
</script>
</body></html>
